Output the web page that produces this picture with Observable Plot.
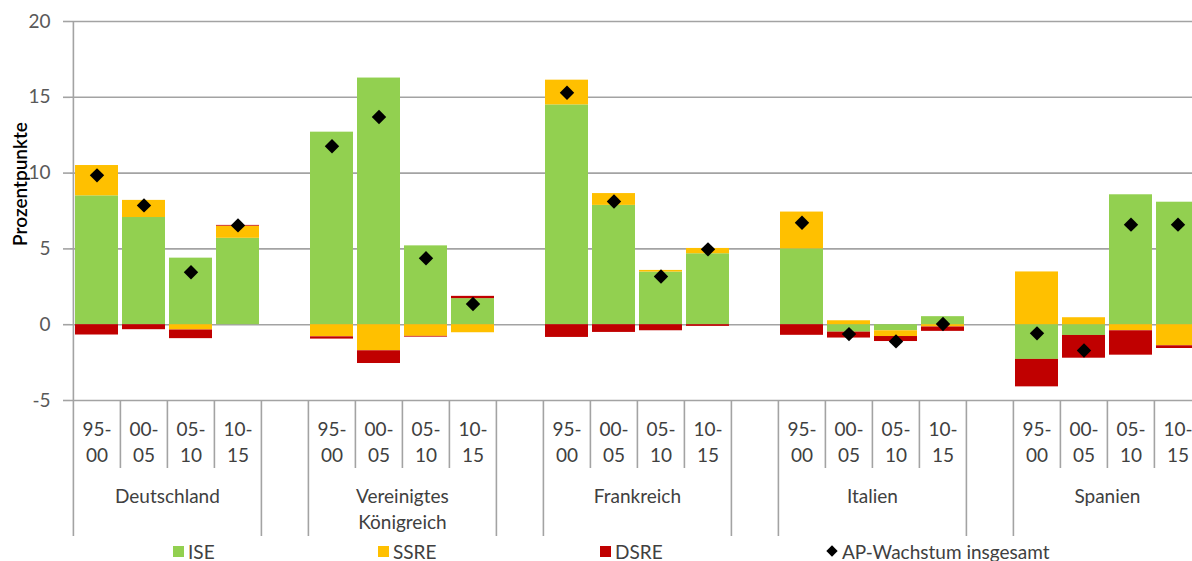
<!DOCTYPE html>
<html>
<head>
<meta charset="utf-8">
<script src="https://cdn.jsdelivr.net/npm/d3@7"></script>
<script src="https://cdn.jsdelivr.net/npm/@observablehq/plot@0.6"></script>
<style>
  html, body { margin: 0; padding: 0; background: #fff; }
  #chart { width: 1192px; height: 541px; overflow: hidden; }
  #legend { position: relative; width: 1192px; height: 20px; font-family: Lato, "Open Sans", sans-serif; font-size: 19px; color: #404040; }
  #legend .item { position: absolute; top: 1px; line-height: 20px; white-space: nowrap; }
  #legend .sw { position: absolute; top: 5px; width: 11px; height: 11px; }
  #legend .dia { position: absolute; top: 6px; width: 8px; height: 8px; background: #000; transform: rotate(45deg); }
</style>
</head>
<body>
<div id="chart"></div>
<div id="legend"></div>
<script>
// ---- data ----
const groups = ["Deutschland", "Vereinigtes\nKönigreich", "Frankreich", "Italien", "Spanien"];
const periods = ["95-00", "00-05", "05-10", "10-15"];
const periodLabels = ["95-\n00", "00-\n05", "05-\n10", "10-\n15"];
const seriesNames = ["ISE", "SSRE", "DSRE"];
const seriesColors = ["#92D050", "#FFC000", "#C00000"];
const totalName = "AP-Wachstum insgesamt";
const yTicks = [-5, 0, 5, 10, 15, 20];

const ise  = [8.5, 7.07, 4.39, 5.7,   12.7, 16.27, 5.2, 1.72,   14.5, 7.87, 3.47, 4.68,   5.0, -0.49, -0.4, 0.53,   -2.29, -0.71, 8.57, 8.08];
const ssre = [2.0, 1.13, -0.35, 0.8,  -0.8, -1.72, -0.77, -0.53, 1.63, 0.78, 0.11, 0.35,   2.43, 0.26, -0.38, -0.15, 3.48, 0.46, -0.4, -1.39];
const dsre = [-0.68, -0.33, -0.57, 0.05, -0.15, -0.84, -0.05, 0.15, -0.84, -0.51, -0.4, -0.11, -0.7, -0.39, -0.33, -0.29, -1.81, -1.5, -1.61, -0.18];
const total = [9.85, 7.87, 3.46, 6.55, 11.77, 13.7, 4.38, 1.37, 15.3, 8.13, 3.18, 4.97, 6.73, -0.62, -1.1, 0.05, -0.57, -1.7, 6.6, 6.6];

// ---- build slots (4 periods per country, one empty slot between countries) ----
const slots = [];
const rows = [];
groups.forEach((g, gi) => {
  periods.forEach((p, pi) => {
    const key = gi + "|" + p;
    slots.push({key, gi, pi, boundaryLong: pi === 0});
    rows.push({key, gi, pi, group: g, period: p, label: periodLabels[pi]});
  });
  if (gi < groups.length - 1) slots.push({key: "gap" + gi, gi, pi: -1, boundaryLong: true});
});
const slotKeys = slots.map(s => s.key);

const series = [ise, ssre, dsre];
const stacked = [];
rows.forEach((r, i) => {
  seriesNames.forEach((s, si) => stacked.push({key: r.key, series: s, value: series[si][i]}));
});
const points = rows.map((r, i) => ({key: r.key, value: total[i]}));
const groupRows = groups.map((g, gi) => ({key: gi + "|" + periods[2], name: g}));

// boundaries: left edge of each slot (long for group starts & gaps)
const longBounds = slots.filter(s => s.boundaryLong && s.key !== slotKeys[0]).map(s => s.key);
const shortBounds = slots.filter(s => !s.boundaryLong).map(s => s.key);

// ---- layout ----
const W = 1192, H = 541;
const xRange = [70, 1203];
const step = (xRange[1] - xRange[0]) / slotKeys.length;
const plotTop = 21, plotBottom = 400;
const font = "Lato, 'Open Sans', sans-serif";
const grey = "#a3a3a3";
const textCol = "#404040";

const chart = Plot.plot({
  width: W,
  height: H,
  marginLeft: 70,
  marginRight: 0,
  marginTop: plotTop,
  marginBottom: H - plotBottom,
  style: {fontFamily: font, fontSize: "19px", color: textCol, background: "#fff"},
  x: {type: "band", domain: slotKeys, range: xRange, padding: 0, axis: null},
  y: {domain: [-5, 20], axis: null},
  color: {domain: seriesNames, range: seriesColors},
  marks: [
    Plot.ruleY(yTicks, {stroke: grey, strokeWidth: 1.6}),
    Plot.barY(stacked, Plot.stackY({x: "key", y: "value", fill: "series", order: seriesNames, insetLeft: 2, insetRight: 2})),
    Plot.dot(points, {x: "key", y: "value", symbol: "diamond2", r: 6.5, fill: "#000", stroke: null}),
    // y axis
    Plot.axisY({ticks: yTicks, tickFormat: d => String(d), tickSize: 7, tickPadding: 13, stroke: grey, strokeWidth: 1.6, fill: "#595959", fontSize: 19, label: null}),
    Plot.ruleX([slotKeys[0]], {dx: -step / 2, stroke: grey, strokeWidth: 1.6, insetBottom: -136}),
    // category dividers
    Plot.ruleX(shortBounds, {dx: -step / 2, stroke: grey, strokeWidth: 1.6, insetTop: plotBottom - plotTop, insetBottom: -68}),
    Plot.ruleX(longBounds, {dx: -step / 2, stroke: grey, strokeWidth: 1.6, insetTop: plotBottom - plotTop, insetBottom: -136}),
    // period labels
    Plot.text(rows, {x: "key", text: "label", frameAnchor: "bottom", lineAnchor: "top", dy: 17, lineHeight: 1.37, fill: textCol, fontSize: 19}),
    // group labels
    Plot.text(groupRows, {x: "key", text: "name", frameAnchor: "bottom", lineAnchor: "top", dx: -step / 2, dy: 84, lineHeight: 1.37, fill: textCol, fontSize: 19}),
    // y label
    Plot.text(["Prozentpunkte"], {frameAnchor: "left", textAnchor: "middle", rotate: -90, dx: -50, dy: -27, fill: "#000", fontSize: 19, fontWeight: 600})
  ]
});
document.getElementById("chart").appendChild(chart);

// ---- legend (HTML) ----
const legend = document.getElementById("legend");
const legendPos = [173, 378, 600, 826];
seriesNames.forEach((s, i) => {
  const sw = document.createElement("div");
  sw.className = "sw";
  sw.style.left = legendPos[i] + "px";
  sw.style.background = seriesColors[i];
  legend.appendChild(sw);
  const t = document.createElement("div");
  t.className = "item";
  t.style.left = (legendPos[i] + 15) + "px";
  t.textContent = s;
  legend.appendChild(t);
});
const d = document.createElement("div");
d.className = "dia";
d.style.left = (legendPos[3] + 2) + "px";
legend.appendChild(d);
const t = document.createElement("div");
t.className = "item";
t.style.left = (legendPos[3] + 16) + "px";
t.textContent = totalName;
legend.appendChild(t);
</script>
</body>
</html>
